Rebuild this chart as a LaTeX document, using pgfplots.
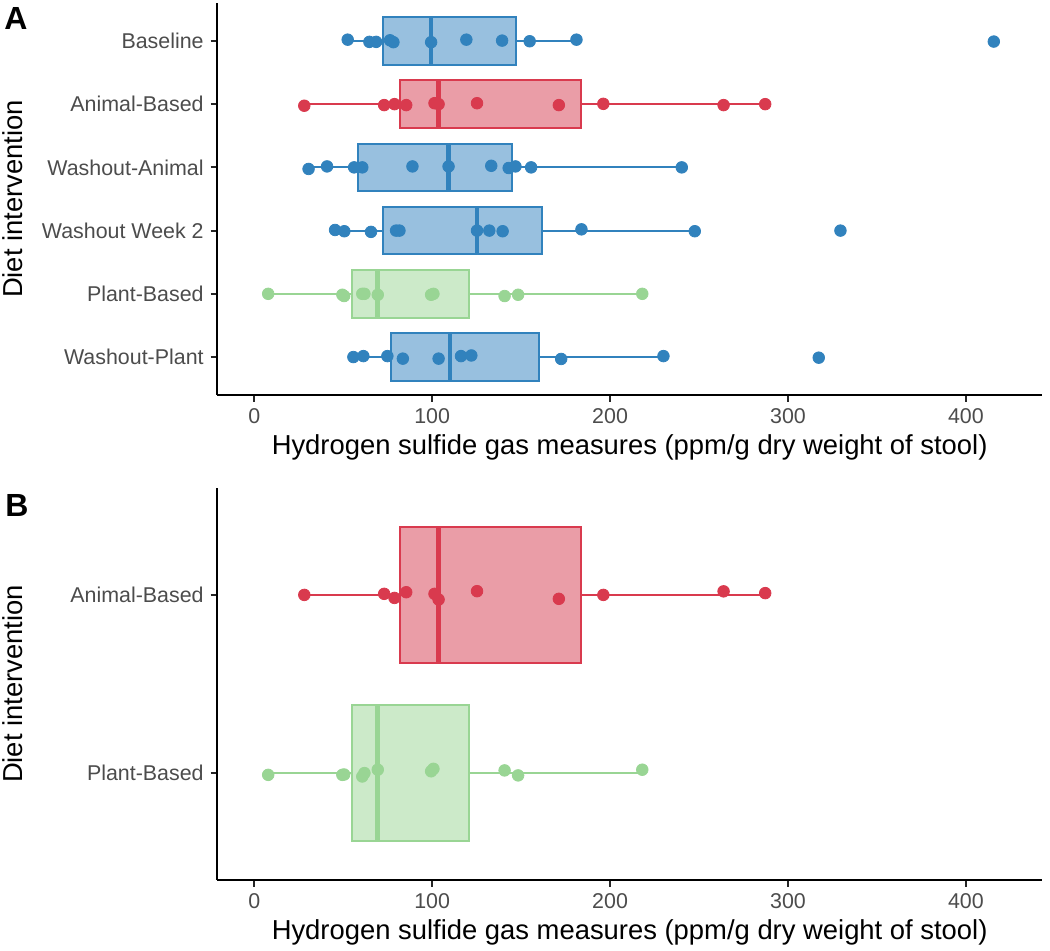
\documentclass[border=0pt]{standalone}
\usepackage{fontspec}
\setmainfont{Liberation Sans}
\usepackage{pgfplots}
\pgfplotsset{compat=1.18}
\usepgfplotslibrary{statistics}
\definecolor{cBlue}{HTML}{3182BD}
\definecolor{cBlueF}{HTML}{98C0DF}
\definecolor{cRed}{HTML}{D93A4E}
\definecolor{cRedF}{HTML}{EA9DA7}
\definecolor{cGreen}{HTML}{99D594}
\definecolor{cGreenF}{HTML}{CCEAC9}
\pgfplotsset{
  panel/.style={
    scale only axis, width=412.35pt, height=196pt,
    xmin=-20.8, xmax=442.8, ymin=0.4,
    axis x line=bottom, axis y line=left,
    axis line style={-, line width=1.1pt, black},
    tick align=outside, major tick length=3.3pt,
    tick style={line width=1pt, black!85},
    xtick={0,100,200,300,400},
    /pgf/number format/assume math mode=true,
    ticklabel style={font=\fontsize{10.7pt}{12pt}\selectfont, text=black!70},
    xlabel={Hydrogen sulfide gas measures (ppm/g dry weight of stool)},
    ylabel={Diet intervention},
    label style={font=\fontsize{13.7pt}{16pt}\selectfont},
    xlabel style={at={(axis description cs:0.5,-0.135)}, anchor=center},
    ylabel style={at={(axis description cs:-0.2483,0.5)}, anchor=center},
    boxplot/draw direction=x,
    clip=false,
  },
  bxB/.style={draw=cBlue, fill=cBlueF, line width=1pt},
  bxR/.style={draw=cRed, fill=cRedF, line width=1pt},
  bxG/.style={draw=cGreen, fill=cGreenF, line width=1pt},
  ptB/.style={only marks, mark=*, mark size=2.9pt, mark options={draw=cBlue, fill=cBlue}},
  ptR/.style={only marks, mark=*, mark size=2.9pt, mark options={draw=cRed, fill=cRed}},
  ptG/.style={only marks, mark=*, mark size=2.9pt, mark options={draw=cGreen, fill=cGreen}},
}
\begin{document}
\begin{tikzpicture}
\useasboundingbox (0,0) rectangle (525pt,-475.5pt);
\node[font=\bfseries\fontsize{16pt}{18pt}\selectfont] at (8pt,-9.5pt) {A};
\node[font=\bfseries\fontsize{16pt}{18pt}\selectfont] at (8.5pt,-252.5pt) {B};
\begin{axis}[panel, at={(108.65pt,-1.5pt)}, anchor=north west, ymax=6.6,
  ytick={1,2,3,4,5,6},
  yticklabels={Washout-Plant, Plant-Based, Washout Week 2, Washout-Animal, Animal-Based, Baseline}]
% Baseline
\addplot[bxB, boxplot prepared={draw position=6, lower whisker=52.5, lower quartile=72.4, median=99.4, upper quartile=147.0, upper whisker=181.1, box extend=0.75, whisker extend=0, every median/.style={line width=2.3pt}}] coordinates {};
% Animal-Based
\addplot[bxR, boxplot prepared={draw position=5, lower whisker=28.1, lower quartile=82.1, median=103.6, upper quartile=183.7, upper whisker=287.2, box extend=0.75, whisker extend=0, every median/.style={line width=2.3pt}}] coordinates {};
% Washout-Animal
\addplot[bxB, boxplot prepared={draw position=4, lower whisker=30.5, lower quartile=58.4, median=109.2, upper quartile=144.9, upper whisker=240.3, box extend=0.75, whisker extend=0, every median/.style={line width=2.3pt}}] coordinates {};
% Washout Week 2
\addplot[bxB, boxplot prepared={draw position=3, lower whisker=45.4, lower quartile=72.6, median=125.2, upper quartile=161.8, upper whisker=247.6, box extend=0.75, whisker extend=0, every median/.style={line width=2.3pt}}] coordinates {};
% Plant-Based
\addplot[bxG, boxplot prepared={draw position=2, lower whisker=7.8, lower quartile=55.1, median=69.4, upper quartile=120.7, upper whisker=218.1, box extend=0.75, whisker extend=0, every median/.style={line width=2.3pt}}] coordinates {};
% Washout-Plant
\addplot[bxB, boxplot prepared={draw position=1, lower whisker=55.7, lower quartile=76.7, median=109.9, upper quartile=159.9, upper whisker=230.0, box extend=0.75, whisker extend=0, every median/.style={line width=2.3pt}}] coordinates {};
% points
\addplot[ptB] coordinates {(52.5,6.02) (64.7,5.985) (68.5,5.985) (76.3,6.01) (78.2,5.98) (99.4,5.98) (119.2,6.02) (139.3,6.005) (154.8,5.995) (181.1,6.02) (415.7,5.99)};
\addplot[ptR] coordinates {(28.1,4.975) (73.0,4.985) (78.8,5.0) (85.4,4.985) (101.3,5.015) (103.6,5.0) (125.2,5.015) (171.2,4.985) (196.2,5.005) (263.8,4.985) (287.2,5.0)};
\addplot[ptB] coordinates {(30.5,3.975) (40.9,4.015) (56.1,4.0) (60.7,4.0) (88.9,4.015) (109.2,4.015) (133.2,4.025) (143.0,3.99) (146.8,4.015) (155.6,4.0) (240.3,4.0)};
\addplot[ptB] coordinates {(45.4,3.01) (50.6,2.99) (65.6,2.98) (79.7,3.0) (81.6,3.0) (125.2,3.0) (132.1,3.0) (139.6,2.99) (183.9,3.02) (247.6,2.99) (329.5,3.0)};
\addplot[ptG] coordinates {(7.8,2.0) (49.5,1.985) (50.5,1.965) (60.7,2.0) (61.9,2.0) (69.4,1.985) (99.4,1.985) (100.7,2.0) (140.7,1.965) (148.3,1.985) (218.1,2.0)};
\addplot[ptB] coordinates {(55.7,1.0) (61.3,1.015) (74.8,1.015) (83.5,0.975) (103.6,0.975) (116.2,1.015) (122.0,1.025) (172.5,0.97) (230.0,1.015) (317.3,0.99)};
\end{axis}
\begin{axis}[panel, at={(108.65pt,-244pt)}, anchor=north west, ymax=2.6,
  ytick={1,2}, yticklabels={Plant-Based, Animal-Based}]
\addplot[bxR, boxplot prepared={draw position=2, lower whisker=28.1, lower quartile=82.1, median=103.6, upper quartile=183.7, upper whisker=287.2, box extend=0.76, whisker extend=0, every median/.style={line width=2.3pt}}] coordinates {};
\addplot[bxG, boxplot prepared={draw position=1, lower whisker=7.8, lower quartile=55.1, median=69.4, upper quartile=120.7, upper whisker=218.1, box extend=0.76, whisker extend=0, every median/.style={line width=2.3pt}}] coordinates {};
\addplot[ptR] coordinates {(28.1,2.0) (73.0,2.006) (78.8,1.983) (85.4,2.015) (101.3,2.006) (103.6,1.974) (125.2,2.021) (171.2,1.978) (196.2,2.0) (263.8,2.02) (287.2,2.01)};
\addplot[ptG] coordinates {(7.8,0.99) (49.5,0.99) (50.5,0.992) (60.7,0.981) (61.9,1.0) (69.4,1.019) (99.4,1.01) (100.7,1.024) (140.7,1.015) (148.3,0.987) (218.1,1.019)};
\end{axis}
\end{tikzpicture}
\end{document}
